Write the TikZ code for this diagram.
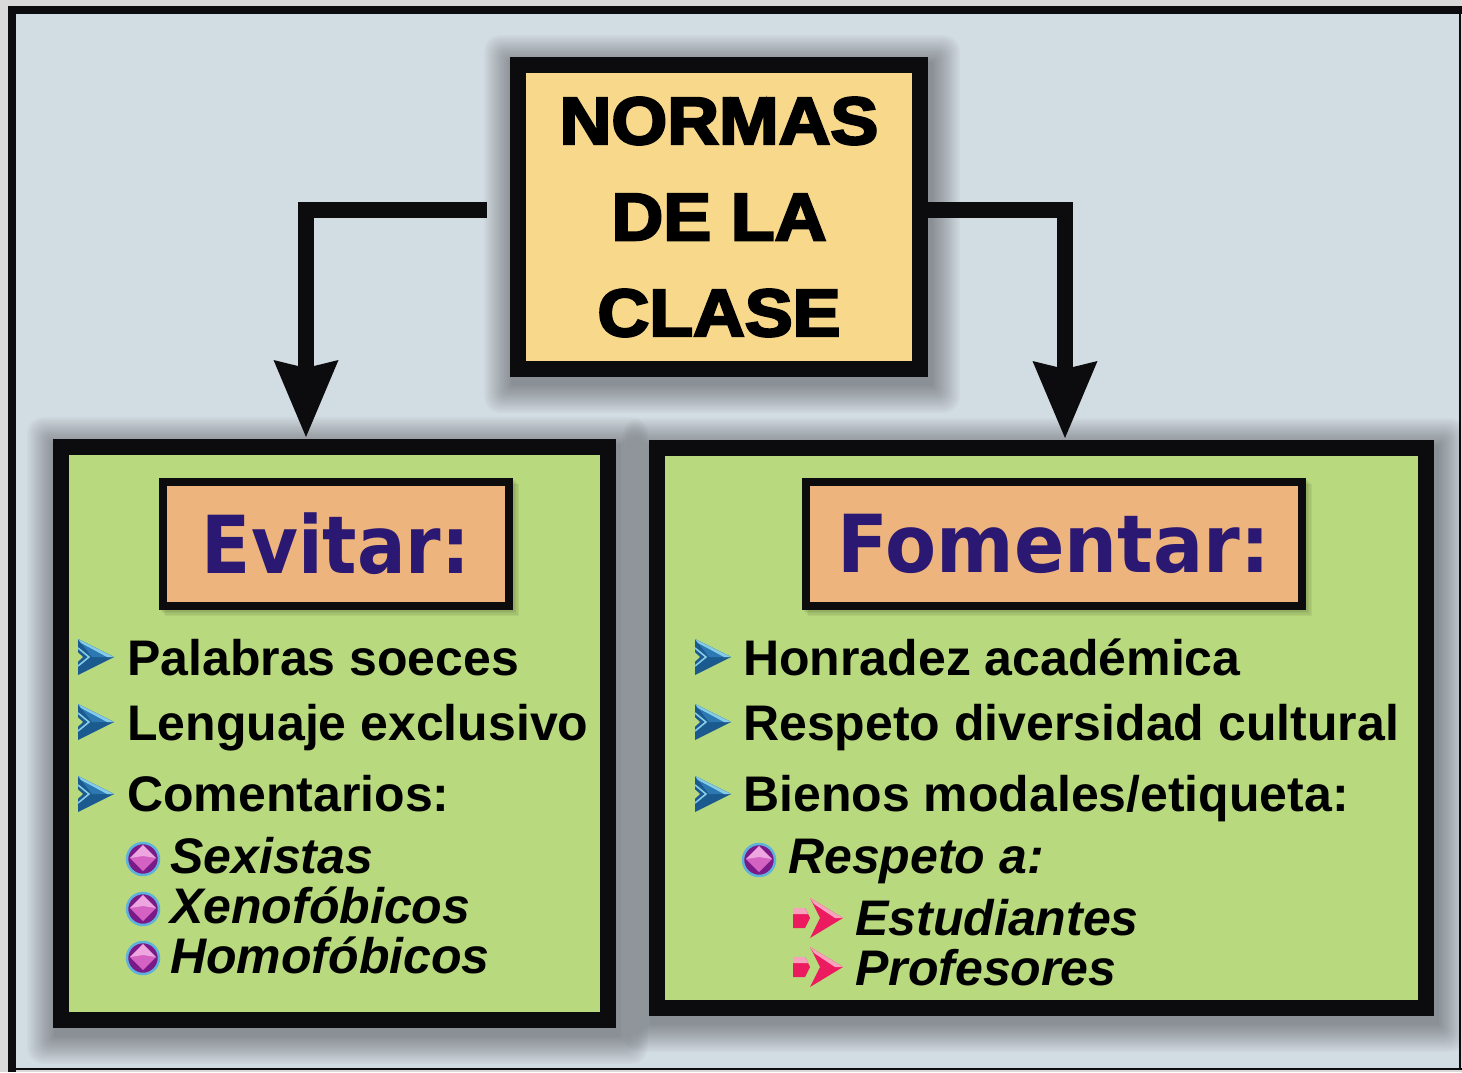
\documentclass[tikz,border=0pt]{standalone}
\usepackage{fontspec}
\setmainfont{Liberation Sans}
\newfontfamily\heavyfont{Liberation Sans Bold}[FakeBold=3.5]
\newfontfamily\labelfont{DejaVu Sans}
\usetikzlibrary{arrows.meta,calc}
\definecolor{outergray}{HTML}{D9D9D9}
\definecolor{panelbg}{HTML}{D2DCE3}
\definecolor{titlefill}{HTML}{F8D98C}
\definecolor{greenfill}{HTML}{B8D97D}
\definecolor{labelfill}{HTML}{EDB57D}
\definecolor{navytext}{HTML}{2A1872}
\definecolor{inkblack}{HTML}{0C0C0E}
\definecolor{chevdark}{HTML}{1B5A8E}
\definecolor{chevmid}{HTML}{2B78B2}
\definecolor{chevlight}{HTML}{86CCE6}
\definecolor{gempurple}{HTML}{7A1A88}
\definecolor{gempink}{HTML}{D462C2}
\definecolor{gemlight}{HTML}{EDA6E0}
\definecolor{gemring}{HTML}{5EB3DC}
\definecolor{hotpink}{HTML}{EC1A5E}
\definecolor{lightpink}{HTML}{F7A3BE}
\newcommand\mysoftshadow[4]{%
  \foreach \k in {1,...,16}{%
    \fill[black,opacity=0.022,rounded corners=\k pt] ({#1-1.8*\k+3},{#2-1.8*\k+7}) rectangle ({#3+1.8*\k+3},{#4+1.8*\k+7});
  }}
\tikzset{
  titlebox/.style={draw=inkblack, line width=16pt, fill=titlefill, minimum width=402pt, minimum height=304pt, inner sep=0pt, align=center, font=\heavyfont\fontsize{67}{96}\selectfont},
  greenbox/.style={draw=inkblack, line width=16pt, fill=greenfill, inner sep=0pt},
  labelbox/.style={draw=inkblack, line width=8pt, fill=labelfill, minimum height=124pt, inner sep=0pt, text=navytext, font=\labelfont\bfseries\fontsize{80}{90}\selectfont},
  conn/.style={draw=inkblack, line width=16pt, -{Stealth[length=77pt,width=65pt,inset=8pt,line width=0pt]}},
  itemtext/.style={anchor=base west, inner sep=0pt, font=\bfseries\fontsize{50}{60}\selectfont},
  subtext/.style={anchor=base west, inner sep=0pt, font=\bfseries\itshape\fontsize{50}{60}\selectfont},
  bluechev/.pic={
    \fill[chevdark] (-18,-18) -- (18,0) -- (-18,18) -- cycle;
    \fill[chevmid] (-18,-18) -- (18,0) -- (-4,0) -- cycle;
    \fill[chevlight] (-18,-18) -- (18,0) -- (11,0) -- (-15,-14) -- cycle;
    \draw[chevlight, line width=1.6pt] (-18,-9) -- (-7,0) -- (-18,9);
    \fill[greenfill] (-18.5,-5) -- (-13,0) -- (-18.5,5) -- cycle;
  },
  gem/.pic={
    \fill[gempurple] (0,0) circle (16);
    \fill[gempink] (0,-14) -- (13,-1) -- (0,12) -- (-13,-1) -- cycle;
    \fill[gemlight] (0,-14) -- (13,-1) -- (0,-3) -- (-13,-1) -- cycle;
    \draw[gemring, line width=2.5pt] (0,0) circle (16);
  },
  pinkarrow/.pic={
    \fill[hotpink] (-25,-10) -- (-13,-10) -- (-8,0) -- (-13,10) -- (-25,10) -- cycle;
    \fill[lightpink] (-25,-10) -- (-13,-10) -- (-10,-4) -- (-25,-4) -- cycle;
    \fill[hotpink] (-8,-20) -- (25,0) -- (-8,20) -- (2,0) -- cycle;
    \fill[lightpink] (-8,-20) -- (25,0) -- (17,0) -- (-4,-14) -- cycle;
  }
}
\begin{document}
\begin{tikzpicture}[x=1pt,y=-1pt]
\useasboundingbox (0,0) rectangle (1462,1072);
% outer surroundings and panel
\fill[outergray] (0,0) rectangle (1462,1072);
\fill[panelbg] (16,14) rectangle (1460,1068);
\fill[inkblack] (8,6) rectangle (1462,14);
\fill[inkblack] (8,6) rectangle (16,1072);
\draw[inkblack, line width=2pt] (1460,14) -- (1460,1069);
\draw[inkblack, line width=2pt] (16,1068.5) -- (1462,1068.5);
% soft shadows
\begin{scope}
\clip (16,14) rectangle (1459,1067);
\mysoftshadow{510}{57}{928}{377}
\mysoftshadow{53}{439}{616}{1028}
\mysoftshadow{649}{440}{1434}{1016}
\end{scope}
% main boxes
\node[titlebox] (title) at (719,217) {\scalebox{1.07}[1]{NORMAS}\\\scalebox{1.07}[1]{DE LA}\\\scalebox{1.07}[1]{CLASE}};
\node[greenbox, minimum width=547pt, minimum height=573pt] (avoid) at (334.5,733.5) {};
\node[greenbox, minimum width=769pt, minimum height=560pt] (promote) at (1041.5,728) {};
% label boxes
\foreach \j in {1,...,4}{
  \fill[black,opacity=0.05] ({159+\j*1.5},{478+\j*1.5}) rectangle ({513+\j*1.5},{610+\j*1.5});
  \fill[black,opacity=0.05] ({802+\j*1.5},{478+\j*1.5}) rectangle ({1306+\j*1.5},{610+\j*1.5});
}
\node[labelbox, minimum width=346pt] (evitar) at (336,544) {\scalebox{0.9}[1]{Evitar:}};
\node[labelbox, minimum width=496pt] (fomentar) at (1054,544) {\scalebox{0.93}[1]{Fomentar:}};
% connectors
\draw[conn] ([xshift=-23pt,yshift=7pt]title.west) -| ([xshift=-28.5pt,yshift=2pt]avoid.north);
\draw[conn] ([yshift=7pt]title.east) -| ([xshift=23.5pt,yshift=2pt]promote.north);
% left list
\node[itemtext] (i1) at (127,675) {Palabras soeces};
\node[itemtext] (i2) at (127,740) {Lenguaje exclusivo};
\node[itemtext] (i3) at (127,811) {Comentarios:};
\node[subtext] (s1) at (170,873) {Sexistas};
\node[subtext] (s2) at (170,923) {Xenofóbicos};
\node[subtext] (s3) at (170,973) {Homofóbicos};
\pic at (96,657) {bluechev};
\pic at (96,722) {bluechev};
\pic at (96,794) {bluechev};
\pic at (143,859) {gem};
\pic at (143,909) {gem};
\pic at (143,958) {gem};
% right list
\node[itemtext] (r1) at (743,675) {Honradez académica};
\node[itemtext] (r2) at (743,740) {Respeto diversidad cultural};
\node[itemtext] (r3) at (743,811) {Bienos modales/etiqueta:};
\node[subtext] (r4) at (788,873) {Respeto a:};
\node[subtext] (r5) at (855,935) {Estudiantes};
\node[subtext] (r6) at (855,985) {Profesores};
\pic at (713,657) {bluechev};
\pic at (713,722) {bluechev};
\pic at (713,794) {bluechev};
\pic at (759,860) {gem};
\pic at (818,918) {pinkarrow};
\pic at (818,967) {pinkarrow};
\end{tikzpicture}
\end{document}
